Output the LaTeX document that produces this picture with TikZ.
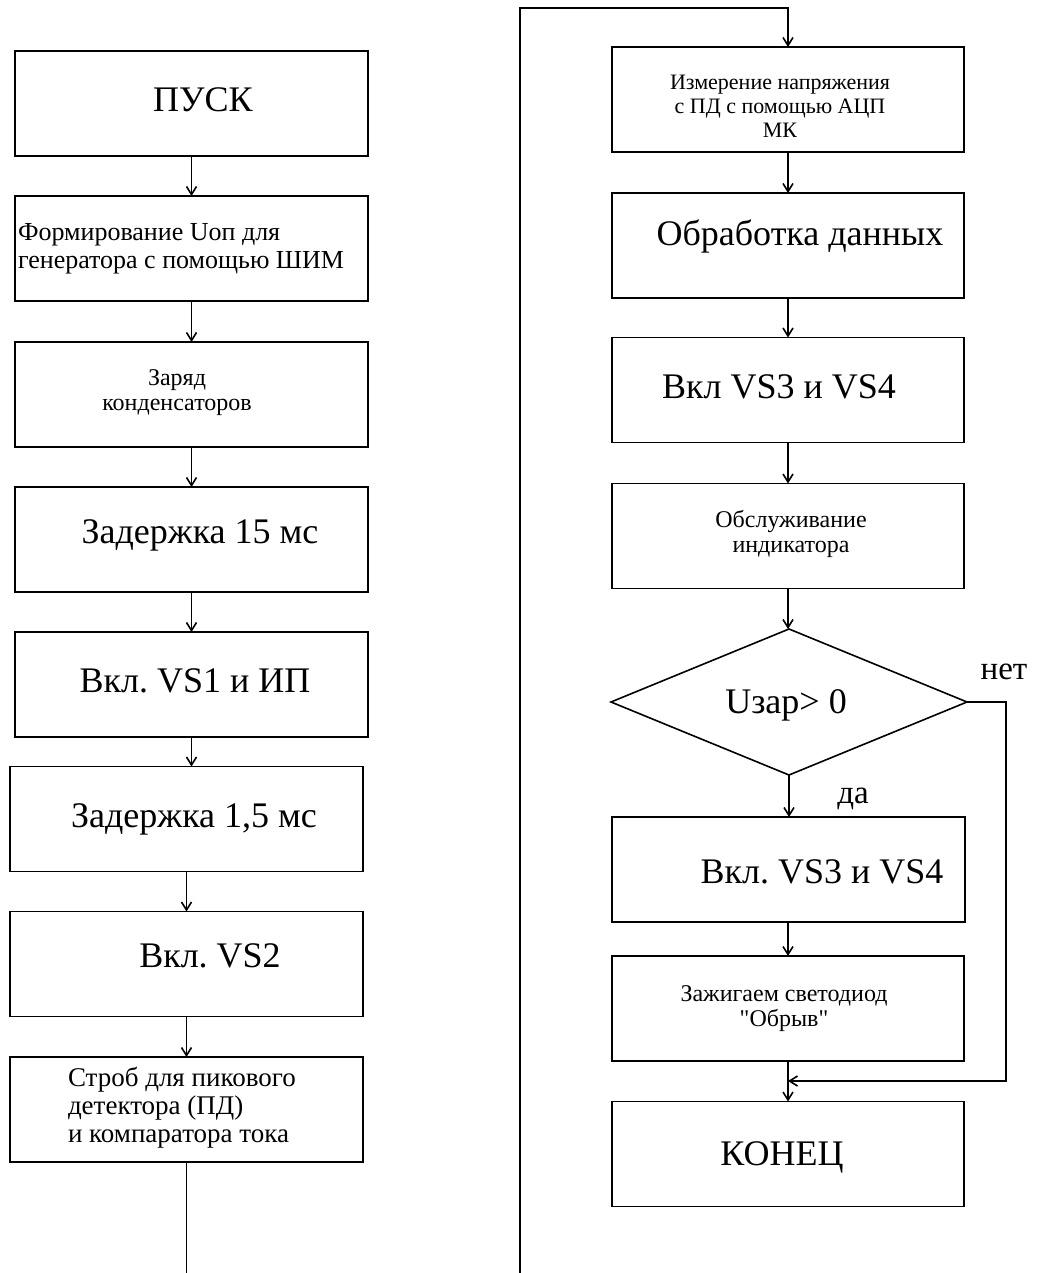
\documentclass[tikz,border=0pt]{standalone}
\usepackage{fontspec}
\setmainfont{Liberation Serif}[Ligatures=TeXOff]
\usetikzlibrary{shapes.geometric,arrows.meta}
\frenchspacing
\tikzset{
  box/.style={draw, line width=1.6pt, rectangle, inner sep=0pt, outer sep=0pt, minimum width=353pt, minimum height=105pt},
  dia/.style={draw, line width=1.6pt, diamond, inner sep=0pt, outer sep=0pt, minimum width=356pt, minimum height=146pt},
  lbl/.style={inner sep=0pt, outer sep=0pt},
  big/.style={lbl, font=\fontsize{36}{40}\selectfont},
  mid/.style={lbl, font=\fontsize{26}{28}\selectfont, align=left},
  small/.style={lbl, font=\fontsize{24}{25}\selectfont, align=center},
  arr/.style={line width=1.6pt, -{Straight Barb[length=8pt,width=10pt]}},
  conn/.style={line width=1.6pt},
}
\begin{document}
\begin{tikzpicture}[x=1pt,y=-1pt]
\useasboundingbox (0,0) rectangle (1036,1273);
% left column boxes
\node[box] (b1) at (191.5,103.5) {};
\node[box] (b2) at (191.5,248.5) {};
\node[box] (b3) at (191.5,394.5) {};
\node[box] (b4) at (191.5,539.5) {};
\node[box] (b5) at (191.5,684.5) {};
\node[box] (b6) at (186.5,819) {};
\node[box] (b7) at (186.5,964) {};
\node[box] (b8) at (186.5,1109.5) {};
% left texts
\node[big, anchor=base] (t1) at (203,112) {ПУСК};
\node[mid, anchor=west] (t2) at (18,249) {Формирование Uоп для\\генератора с помощью ШИМ};
\node[small] (t3) at (177,393) {Заряд\\конденсаторов};
\node[big, anchor=base] (t4) at (200,543) {Задержка 15 мс};
\node[big, anchor=base] (t5) at (195,692) {Вкл. VS1 и ИП};
\node[big, anchor=base] (t6) at (194,827) {Задержка 1,5 мс};
\node[big, anchor=base] (t7) at (210,967) {Вкл. VS2};
\node[mid, anchor=west, font=\fontsize{27}{28}\selectfont] (t8) at (68,1108) {Строб для пикового\\детектора (ПД)\\и компаратора тока};
% right column boxes
\node[box, minimum width=352pt] (r1) at (788,99.5) {};
\node[box, minimum width=352pt] (r2) at (788,245.5) {};
\node[box, minimum width=352pt] (r3) at (788,390) {};
\node[box, minimum width=352pt] (r4) at (788,536) {};
\node[dia] (d) at (789,702) {};
\node[box] (r5) at (788.5,869.5) {};
\node[box, minimum width=352pt] (r6) at (788,1008.5) {};
\node[box, minimum width=352pt] (r7) at (788,1154) {};
% right texts
\node[small, font=\fontsize{22}{24}\selectfont] (s1) at (780,106) {Измерение напряжения\\с ПД с помощью АЦП\\МК};
\node[big, anchor=base] (s2) at (800,246) {Обработка данных};
\node[big, anchor=base] (s3) at (779,398) {Вкл VS3 и VS4};
\node[small] (s4) at (791,534) {Обслуживание\\индикатора};
\node[big, anchor=base] (s5) at (786,713) {Uзар> 0};
\node[big, anchor=base] (s6) at (822,883) {Вкл. VS3 и VS4};
\node[small] (s7) at (784,1009) {Зажигаем светодиод\\"Обрыв"};
\node[big, anchor=base] (s8) at (782,1165) {КОНЕЦ};
\node[lbl, font=\fontsize{33}{36}\selectfont, anchor=base] (yes) at (853,803) {да};
\node[lbl, font=\fontsize{33}{36}\selectfont, anchor=base] (no) at (1004,679) {нет};
% connectors left
\draw[arr] (b1) -- (b2);
\draw[arr] (b2) -- (b3);
\draw[arr] (b3) -- (b4);
\draw[arr] (b4) -- (b5);
\draw[arr] (b5.south) -- (b5.south |- b6.north);
\draw[arr] (b6) -- (b7);
\draw[arr] (b7) -- (b8);
\coordinate (leftend) at (186.5,1273);
\draw[conn] (b8.south) -- (leftend);
% loop to right column
\coordinate (loopstart) at (520,1273);
\coordinate (looptop) at (520,8);
\draw[arr] (loopstart) -- (looptop) -| (r1.north);
% connectors right
\draw[arr] (r1) -- (r2);
\draw[arr] (r2) -- (r3);
\draw[arr] (r3) -- (r4);
\draw[arr] (r4.south) -- (r4.south |- d.north);
\draw[arr] (d.south) -- (d.south |- r5.north);
\draw[arr] (r5.south -| r6.north) -- (r6.north);
\draw[arr] (r6) -- (r7);
\coordinate (noright) at (1006,1081);
\draw[arr] (d.east) -| (noright) -- (noright -| r6.south);
\end{tikzpicture}
\end{document}
